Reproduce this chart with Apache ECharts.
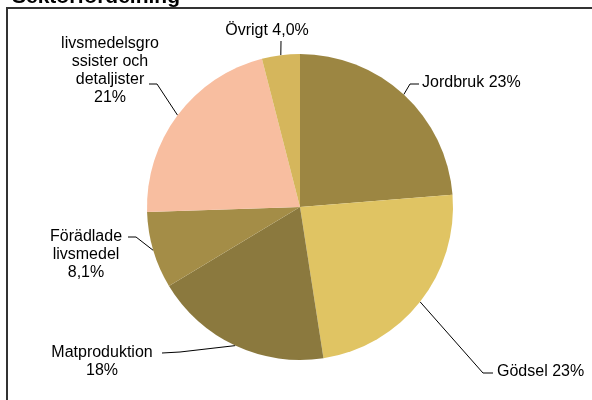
<!DOCTYPE html>
<html>
<head>
<meta charset="utf-8">
<script src="https://cdn.jsdelivr.net/npm/echarts@6/dist/echarts.min.js"></script>
<style>
  html, body { margin: 0; padding: 0; background: #fff; }
  #chart { width: 592px; height: 400px; }
</style>
</head>
<body>
<div id="chart"></div>
<script>
  // sektorer, andelar (%) och etiketter
  var sectors = ['Jordbruk', 'Gödsel', 'Matproduktion', 'Förädlade livsmedel', 'livsmedelsgrossister och detaljister', 'Övrigt'];
  var shares = [23.7, 23.8, 18.8, 8.1, 21.5, 4.0];
  var labels = ['Jordbruk 23%', 'Gödsel 23%', 'Matproduktion\n18%', 'Förädlade\nlivsmedel\n8,1%', 'livsmedelsgro\nssister och\ndetaljister\n21%', 'Övrigt 4,0%'];
  var colors = ['#9c8642', '#e0c463', '#8b793e', '#a48d47', '#f8bea0', '#d5b65c'];

  // var etiketterna står och hur ledarlinjerna bryts
  var labelPos = [
    { x: 422, y: 83, align: 'left', bend: [410, 84], end: [419, 84] },
    { x: 497, y: 372, align: 'left', bend: [483, 373], end: [493, 373] },
    { x: 102, y: 362, align: 'center', bend: [180, 352], end: [162, 353] },
    { x: 86, y: 255, align: 'center', bend: [136, 237], end: [128, 237] },
    { x: 110, y: 71, align: 'center', bend: [157, 84], end: [149, 84] },
    { x: 267, y: 31, align: 'center', bend: [281, 41], end: [281, 41] }
  ];

  var chart = echarts.init(document.getElementById('chart'));
  var option = {
    animation: false,
    graphic: [
      {
        type: 'rect',
        shape: { x: 7, y: 8, width: 620, height: 420 },
        style: { fill: 'none', stroke: '#333', lineWidth: 2 },
        silent: true
      },
      {
        type: 'text',
        x: 12,
        y: -3,
        style: {
          text: 'Sektorfördelning',
          font: 'bold 21px "Liberation Sans", Arial, sans-serif',
          fill: '#000',
          verticalAlign: 'middle'
        },
        silent: true
      }
    ],
    series: [
      {
        type: 'pie',
        center: [300, 207],
        radius: 153,
        startAngle: 90,
        clockwise: true,
        avoidLabelOverlap: false,
        emphasis: { scale: false },
        itemStyle: { borderWidth: 0 },
        label: {
          show: true,
          position: 'outside',
          formatter: function (p) { return labels[p.dataIndex]; },
          fontFamily: '"Liberation Sans", Arial, sans-serif',
          fontSize: 16,
          lineHeight: 18,
          color: '#000'
        },
        labelLine: {
          show: true,
          length: 10,
          length2: 8,
          lineStyle: { color: '#000', width: 1 }
        },
        labelLayout: function (params) {
          var p = labelPos[params.dataIndex];
          var start = params.labelLinePoints ? params.labelLinePoints[0] : p.bend;
          return {
            x: p.x,
            y: p.y,
            align: p.align,
            verticalAlign: 'middle',
            labelLinePoints: [start, p.bend, p.end]
          };
        },
        data: sectors.map(function (name, i) {
          return { name: name, value: shares[i], itemStyle: { color: colors[i] } };
        })
      }
    ]
  };
  chart.setOption(option);
</script>
</body>
</html>
